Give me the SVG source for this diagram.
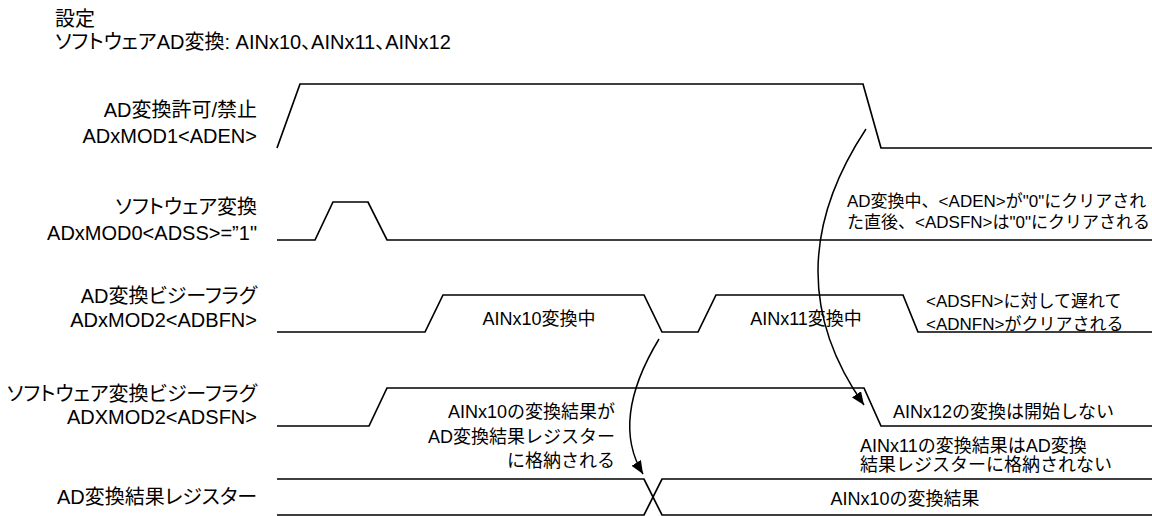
<svg xmlns="http://www.w3.org/2000/svg" width="1152" height="516" viewBox="0 0 1152 516">
<defs>
<style>
text{font-family:"Liberation Sans","Noto Sans CJK JP",sans-serif;fill:#000;}
.t{font-size:20px;font-feature-settings:"palt";}
.lb{font-size:20px;text-anchor:end;font-feature-settings:"palt";}
.a18{font-size:18px;}
.a17{font-size:17px;}
.wave{fill:none;stroke:#000;stroke-width:1.7;stroke-linejoin:miter;}
.conn{fill:none;stroke:#000;stroke-width:1.5;}
</style>
<marker id="ah" markerUnits="userSpaceOnUse" markerWidth="14" markerHeight="12" refX="13" refY="5.5" orient="auto">
<path d="M0,0 L13,5.5 L0,11 z" fill="#000"/>
</marker>
</defs>
<rect width="1152" height="516" fill="#fff"/>
<g id="title">
<text class="t" x="55" y="26">設定</text>
<text class="t" x="55" y="49">ソフトウェアAD変換: AINx10、AINx11、AINx12</text>
</g>
<g id="sig-aden">
<text class="lb" x="257" y="117">AD変換許可/禁止</text>
<text class="lb" x="257" y="143">ADxMOD1&lt;ADEN&gt;</text>
<polyline class="wave" points="277,148 300,84 863,84 881,148 1152,148"/>
</g>
<g id="sig-adss">
<text class="lb" x="257" y="214">ソフトウェア変換</text>
<text class="lb" x="257" y="240">ADxMOD0&lt;ADSS&gt;=”1"</text>
<polyline class="wave" points="277,240 315,240 333,202 368,202 387,240 1152,240"/>
</g>
<g id="sig-adbfn">
<text class="lb" x="257" y="303">AD変換ビジーフラグ</text>
<text class="lb" x="257" y="327">ADxMOD2&lt;ADBFN&gt;</text>
<polyline class="wave" points="277,332 425,332 443,295 644,295 662,332 698,332 716,295 903,295 918,332 1152,332"/>
<text class="a18" x="539" y="325" text-anchor="middle">AINx10変換中</text>
<text class="a18" x="806" y="325" text-anchor="middle">AINx11変換中</text>
</g>
<g id="sig-adsfn">
<text class="lb" x="257" y="401">ソフトウェア変換ビジーフラグ</text>
<text class="lb" x="257" y="424">ADXMOD2&lt;ADSFN&gt;</text>
<polyline class="wave" points="277,426 369,426 387,388 864,388 881,426 1152,426"/>
</g>
<g id="sig-result">
<text class="lb" x="257" y="504">AD変換結果レジスター</text>
<polyline class="wave" points="277,479 644,479 662,515 1152,515"/>
<polyline class="wave" points="277,515 644,515 662,479 1152,479"/>
<text class="a18" x="905" y="505" text-anchor="middle">AINx10の変換結果</text>
</g>
<g id="note-aden">
<text class="a17" x="847" y="207">AD変換中、&lt;ADEN&gt;が"0"にクリアされ</text>
<text class="a17" x="847" y="228">た直後、&lt;ADSFN&gt;は"0"にクリアされる</text>
</g>
<g id="note-adbfn">
<text class="a17" x="926" y="307">&lt;ADSFN&gt;に対して遅れて</text>
<text class="a17" x="926" y="330">&lt;ADNFN&gt;がクリアされる</text>
</g>
<g id="note-store">
<text class="a18" x="615" y="418" text-anchor="end">AINx10の変換結果が</text>
<text class="a18" x="615" y="443" text-anchor="end">AD変換結果レジスター</text>
<text class="a18" x="615" y="467" text-anchor="end">に格納される</text>
</g>
<g id="note-ain12">
<text class="a18" x="893" y="418">AINx12の変換は開始しない</text>
<text class="a18" x="860" y="452">AINx11の変換結果はAD変換</text>
<text class="a18" x="860" y="471">結果レジスターに格納されない</text>
</g>
<g id="connectors">
<path class="conn" d="M866,129 Q771,273 864,405" marker-end="url(#ah)"/>
<path class="conn" d="M659,339 Q610,420 643,474" marker-end="url(#ah)"/>
</g>
</svg>
